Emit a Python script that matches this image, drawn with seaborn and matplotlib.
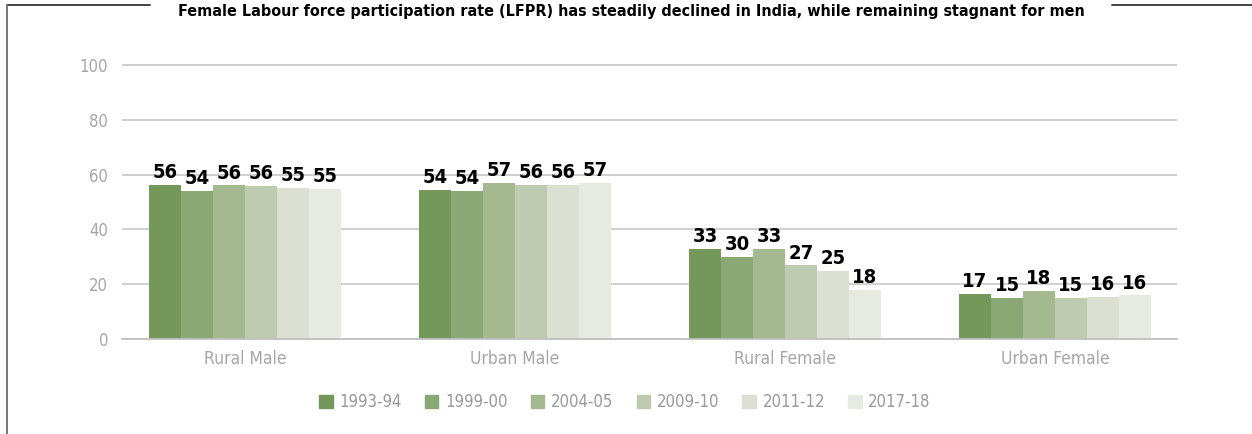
import pandas as pd
import matplotlib
matplotlib.use("Agg")
import matplotlib.pyplot as plt
import matplotlib.patches as mpatches
import matplotlib.lines as mlines
import seaborn as sns

groups = ["Rural Male", "Urban Male", "Rural Female", "Urban Female"]
years = ["1993-94", "1999-00", "2004-05", "2009-10", "2011-12", "2017-18"]
rural_male = [56.2, 54.0, 56.1, 56.0, 55.1, 54.7]
urban_male = [54.4, 54.0, 56.9, 56.2, 56.2, 56.9]
rural_female = [32.8, 29.9, 32.8, 26.9, 25.0, 18.0]
urban_female = [16.6, 14.9, 17.7, 14.9, 15.5, 15.9]
colors = ["#73985a", "#8aa876", "#a4b98f", "#bfcbb0", "#dbe0d3", "#e7eae1"]

rows = []
for g, vals in zip(groups, [rural_male, urban_male, rural_female, urban_female]):
    for yr, v in zip(years, vals):
        rows.append({"group": g, "year": yr, "value": v})
df = pd.DataFrame(rows)

sns.set_style("white")
plt.rcParams['font.family'] = ['DejaVu Sans']
plt.rcParams['font.stretch'] = 'condensed'

fig = plt.figure(figsize=(12.52, 4.34), dpi=100)
# y from 0 to 101 so the 100 gridline is not clipped
ax = fig.add_axes([122/1252, 95/434, 1055/1252, 276.7/434])

sns.barplot(data=df, x="group", y="value", hue="year", palette=colors,
            width=0.711, gap=0, saturation=1, linewidth=0, ax=ax, legend=False)

for c in ax.containers:
    ax.bar_label(c, fmt="%.0f", padding=2, fontsize=14.5, fontweight="bold",
                 color="black", fontstretch="condensed")

ax.set_xlim((122 - 245) / 270, (1177 - 245) / 270)
ax.set_ylim(0, 101)
ax.set_yticks([0, 20, 40, 60, 80, 100])
ax.yaxis.grid(True, color="#cccccc", linewidth=1.3)
ax.set_axisbelow(True)
for s in ["top", "right", "left"]:
    ax.spines[s].set_visible(False)
ax.spines["bottom"].set_color("#bfbfbf")
ax.spines["bottom"].set_linewidth(1.3)
ax.set_xlabel("")
ax.set_ylabel("")
ax.tick_params(axis="y", length=0, pad=10, labelsize=12, labelcolor="#a6a6a6")
ax.tick_params(axis="x", which="major", length=0, pad=8, labelsize=12.5, labelcolor="#a6a6a6")
ax.set_xticks([0.5, 1.5, 2.5], minor=True)
ax.tick_params(axis="x", which="minor", length=18, width=1.2, color="#cccccc")

fig.text(631/1252, 1 - 16/434,
         "Female Labour force participation rate (LFPR) has steadily declined in India, while remaining stagnant for men",
         ha="center", va="baseline", fontsize=11.5, fontweight="bold", color="black",
         fontstretch="condensed")

# frame lines around the title
fig.add_artist(mlines.Line2D([7/1252, 150/1252], [1 - 5/434, 1 - 5/434], color="#444444", linewidth=1.4))
fig.add_artist(mlines.Line2D([7/1252, 7/1252], [1 - 5/434, 0], color="#777777", linewidth=1.4))
fig.add_artist(mlines.Line2D([1112/1252, 1.0], [1 - 5/434, 1 - 5/434], color="#444444", linewidth=1.4))

handles = [mpatches.Patch(color=c, label=y) for c, y in zip(colors, years)]
leg = fig.legend(handles=handles, loc="center", bbox_to_anchor=(625/1252, 32/434), ncol=6,
                 frameon=False, fontsize=12, handlelength=0.8, handleheight=0.8,
                 handletextpad=0.4, columnspacing=1.4)
for t in leg.get_texts():
    t.set_color("#999999")

fig.savefig("out.png", dpi=100)
